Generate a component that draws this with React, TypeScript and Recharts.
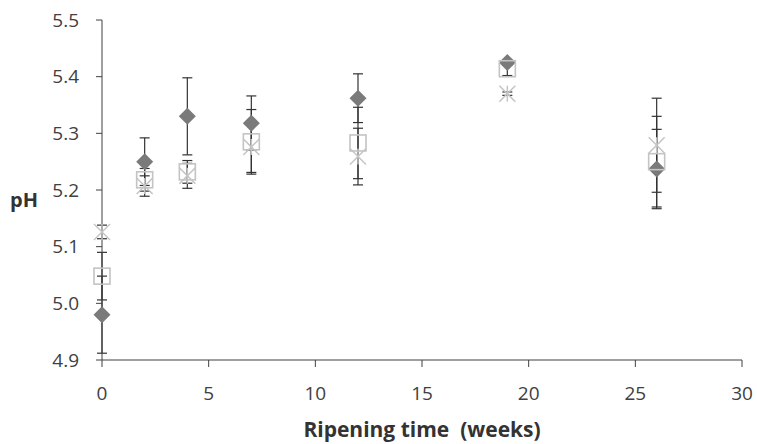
import React from 'react';
import { ScatterChart, Scatter, XAxis, YAxis, ErrorBar } from 'recharts';

if (typeof document !== 'undefined') {
  document.body.style.margin = '0';
}

const weeks = [0, 2, 4, 7, 12, 19, 26];
const diamondPH = [4.98, 5.25, 5.33, 5.318, 5.362, 5.425, 5.237];
const diamondErr = [0.068, 0.042, 0.068, 0.048, 0.043, 0.005, 0.07];
const squarePH = [5.048, 5.218, 5.232, 5.285, 5.283, 5.414, 5.25];
const squareErr = [0.042, 0.02, 0.02, 0.057, 0.063, 0.012, 0.08];
const starPH = [5.126, 5.207, 5.225, 5.276, 5.259, 5.37, 5.279];
const starErr = [0.012, 0.018, 0.022, 0.045, 0.05, 0.003, 0.083];

const xTicks = [0, 5, 10, 15, 20, 25, 30];
const yTicks = [4.9, 5.0, 5.1, 5.2, 5.3, 5.4, 5.5];

const build = (vals: number[], errs: number[]) =>
  weeks.map((w, i) => ({ week: w, ph: vals[i], err: errs[i] }));

const diamondData = build(diamondPH, diamondErr);
const squareData = build(squarePH, squareErr);
const starData = build(starPH, starErr);

const FONT = '"Open Sans", "DejaVu Sans", sans-serif';
const AXIS = '#404040';

const Diamond = (p: any) => {
  const { cx, cy } = p;
  const r = 8.5;
  return (
    <path
      d={`M${cx},${cy - r}L${cx + r},${cy}L${cx},${cy + r}L${cx - r},${cy}Z`}
      fill="#7a7a7a"
    />
  );
};

const Square = (p: any) => {
  const { cx, cy } = p;
  const h = 8;
  return (
    <rect x={cx - h} y={cy - h} width={2 * h} height={2 * h} fill="none" stroke="#c4c4c4" strokeWidth={1.6} />
  );
};

const Star = (p: any) => {
  const { cx, cy } = p;
  const h = 8;
  return (
    <g stroke="#c4c4c4" strokeWidth={1.5}>
      <line x1={cx - h} y1={cy - h} x2={cx + h} y2={cy + h} />
      <line x1={cx - h} y1={cy + h} x2={cx + h} y2={cy - h} />
      <line x1={cx} y1={cy - h} x2={cx} y2={cy + h} />
    </g>
  );
};

export default function App() {
  return (
    <ScatterChart width={757} height={444} margin={{ top: 20, right: 15, left: 0, bottom: 0 }}>
      <XAxis
        type="number"
        dataKey="week"
        domain={[0, 30]}
        ticks={xTicks}
        interval={0}
        height={84}
        tickSize={7}
        tickMargin={20}
        stroke={AXIS}
        tick={{ fontFamily: FONT, fontSize: 19, fill: AXIS }}
        tickLine={{ stroke: AXIS }}
        axisLine={{ stroke: AXIS }}
        label={{
          value: 'Ripening time\u00a0 (weeks)',
          position: 'insideBottom',
          offset: 7,
          style: { fontFamily: FONT, fontSize: 21, fontWeight: 700, fill: '#333' },
        }}
      />
      <YAxis
        type="number"
        dataKey="ph"
        domain={[4.9, 5.5]}
        ticks={yTicks}
        interval={0}
        width={102}
        tickSize={6}
        tickMargin={17}
        stroke={AXIS}
        tickFormatter={(v: number) => v.toFixed(1)}
        tick={{ fontFamily: FONT, fontSize: 19, fill: AXIS }}
        tickLine={{ stroke: AXIS }}
        axisLine={{ stroke: AXIS }}
        label={{
          value: 'pH',
          position: 'insideLeft',
          offset: 10,
          dy: 10,
          style: { fontFamily: FONT, fontSize: 20, fontWeight: 700, fill: '#333' },
        }}
      />
      <Scatter data={diamondData} shape={Diamond} isAnimationActive={false}>
        <ErrorBar dataKey="err" direction="y" width={5} stroke="#333" strokeWidth={1.2} />
      </Scatter>
      <Scatter data={squareData} shape={Square} isAnimationActive={false}>
        <ErrorBar dataKey="err" direction="y" width={5} stroke="#333" strokeWidth={1.2} />
      </Scatter>
      <Scatter data={starData} shape={Star} isAnimationActive={false}>
        <ErrorBar dataKey="err" direction="y" width={5} stroke="#333" strokeWidth={1.2} />
      </Scatter>
    </ScatterChart>
  );
}
